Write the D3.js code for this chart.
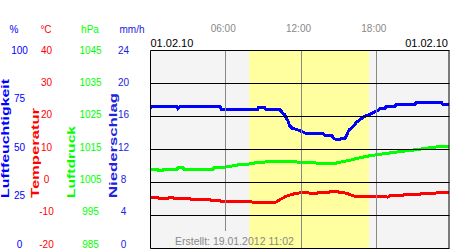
<!DOCTYPE html>
<html><head><meta charset="utf-8">
<script src="https://cdn.jsdelivr.net/npm/d3@7/dist/d3.min.js"></script>
<style>body{margin:0;background:#fff}svg{display:block}text{font-family:"Liberation Sans",Arial,sans-serif}</style>
</head><body><svg id="c" width="450" height="250"></svg>
<script>
// ---- data ----
const dateLabel = "01.02.10";
const createdLabel = "Erstellt: 19.01.2012 11:02";
const timeTicks = [6, 12, 18];
const timeTickLabels = ["06:00", "12:00", "18:00"];
const daylight = [7.88, 17.42]; // hours

const humTicks = [100, 75, 50, 25, 0];
const tempTicks = [40, 30, 20, 10, 0, -10, -20];
const presTicks = [1045, 1035, 1025, 1015, 1005, 995, 985];
const precTicks = [24, 20, 16, 12, 8, 4, 0];

const humTime = [0,0.13,2.12,2.2,2.36,5.55,5.63,8.57,8.6,9.13,9.21,10.33,10.49,10.69,10.84,11.0,11.08,11.28,11.68,12.16,12.48,13.75,13.91,14.47,14.55,14.79,15.11,15.27,15.51,15.82,16.14,16.46,16.78,17.1,17.5,17.9,18.29,18.69,18.77,19.49,19.57,21.08,21.16,23.24,23.31,23.79];
const humVal  = [70.7,71.8,71.8,70.7,71.8,71.8,70.4,70.4,71.0,71.0,70.0,70.0,68.8,67.6,65.7,64.0,62.2,60.8,60.1,58.8,57.9,57.9,57.0,57.0,55.8,55.0,55.0,55.8,55.6,59.8,61.5,64.0,65.4,66.8,67.8,69.0,70.5,70.5,71.8,71.8,72.6,72.6,73.5,73.5,72.6,72.6];

const presTime = [0,0.6,0.65,1.0,1.05,2.12,2.2,2.6,2.68,4.99,5.07,5.71,6.02,6.66,7.22,7.86,8.57,9.53,10.97,11.77,12.56,12.88,13.51,14.71,15.27,15.74,16.46,17.34,18.38,19.57,21.08,22.83,23.79];
const presVal  = [1008.8,1008.8,1008.6,1008.6,1009.0,1009.0,1009.4,1009.4,1009.0,1009.0,1009.4,1009.4,1009.7,1010.1,1010.5,1010.6,1011.1,1011.3,1011.3,1011.2,1011.2,1011.0,1010.8,1010.8,1011.3,1011.6,1012.3,1013.0,1013.6,1014.2,1014.9,1015.8,1016.0];

const tempTime = [0,0.61,0.69,1.4,1.47,1.79,1.87,3.14,3.22,4.75,4.83,5.55,5.63,7.54,8.1,8.41,8.89,9.69,10.01,10.41,10.81,11.28,11.76,12.48,12.88,13.27,13.35,14.15,14.31,14.94,15.18,15.58,15.98,16.38,17.89,18.93,19.09,20.05,20.21,21.48,21.64,22.68,22.84,23.79];
const tempVal  = [-4.5,-4.5,-4.8,-4.8,-4.5,-4.5,-4.8,-4.8,-5.1,-5.1,-5.4,-5.4,-5.7,-5.7,-5.9,-6.1,-6.2,-6.2,-5.9,-5.0,-4.2,-3.6,-3.2,-3.1,-3.3,-3.3,-3.1,-3.1,-2.8,-2.8,-3.1,-3.2,-3.8,-4.3,-4.3,-4.4,-4.0,-4.0,-3.6,-3.6,-3.3,-3.3,-3.1,-3.0];

// ---- layout ----
const svg = d3.select("#c");
const L = 150.5, R = 449.5, T = 50.5, B = 248.5;
const x = d3.scaleLinear().domain([0, 24]).range([150.4, 451.6]);
const yHum = d3.scaleLinear().domain([0, 100]).range([B, T]);
const yTemp = d3.scaleLinear().domain([-20, 40]).range([B, T]);
const yPres = d3.scaleLinear().domain([985, 1045]).range([B, T]);
const yGrid = d3.scaleLinear().domain([0, 6]).range([B, T]);
// label scales (labels are spread slightly tighter than the grid)
const lHum = d3.scaleLinear().domain([0, 100]).range([244, 50]);
const lTemp = d3.scaleLinear().domain([-20, 40]).range([244, 50]);
const lPres = d3.scaleLinear().domain([985, 1045]).range([244, 50]);
const lPrec = d3.scaleLinear().domain([0, 24]).range([244, 50]);

const BLUE = "#0000ff", RED = "#ff0000", GREEN = "#00ff00", PREC = "#2222dd";

// background
svg.append("rect").attr("x", L).attr("y", T).attr("width", R - L).attr("height", B - T).attr("fill", "#f4f4f4");
svg.append("rect").attr("x", x(daylight[0])).attr("y", T).attr("width", x(daylight[1]) - x(daylight[0])).attr("height", B - T).attr("fill", "#ffffa0");

// data lines
const clip = svg.append("clipPath").attr("id", "pc").append("rect").attr("x", L).attr("y", T).attr("width", R - L).attr("height", B - T);
const g = svg.append("g").attr("clip-path", "url(#pc)");
function drawLine(times, vals, ys, color) {
  const pts = times.map((t, i) => [t, vals[i]]);
  g.append("path").datum(pts)
    .attr("d", d3.line().x(d => x(d[0])).y(d => ys(d[1])))
    .attr("fill", "none").attr("stroke", color).attr("stroke-width", 3)
    .attr("stroke-linejoin", "miter").attr("shape-rendering", "crispEdges");
}
drawLine(presTime, presVal, yPres, GREEN);
drawLine(tempTime, tempVal, yTemp, RED);
drawLine(humTime, humVal, yHum, BLUE);

// grid on top
timeTicks.forEach(t => {
  const xx = Math.floor(x(t)) + 0.5;
  svg.append("line").attr("x1", xx).attr("x2", xx).attr("y1", T).attr("y2", B).attr("stroke", "#888").attr("stroke-width", 1);
});
d3.range(0, 7).forEach(k => {
  svg.append("line").attr("x1", L).attr("x2", R).attr("y1", yGrid(k)).attr("y2", yGrid(k)).attr("stroke", "#000").attr("stroke-width", 1);
});
svg.append("line").attr("x1", L).attr("x2", L).attr("y1", T).attr("y2", B).attr("stroke", "#000");
svg.append("line").attr("x1", R - 0.5).attr("x2", R - 0.5).attr("y1", T).attr("y2", B).attr("stroke", "#000");

// created label with cover box
svg.append("rect").attr("x", 170).attr("y", 231).attr("width", x(daylight[0]) - 170).attr("height", B - 231 - 0.5).attr("fill", "#f4f4f4");
svg.append("text").attr("x", 175).attr("y", 245).attr("font-size", 10.5).attr("fill", "#888").text(createdLabel);

// top labels
svg.selectAll(".tt").data(timeTicks).enter().append("text")
  .attr("x", (d) => x(d) - 2.5).attr("y", 32).attr("text-anchor", "middle")
  .attr("font-size", 10).attr("fill", "#888").text((d, i) => timeTickLabels[i]);
svg.append("text").attr("x", 150.5).attr("y", 46.5).attr("font-size", 11).attr("fill", "#000").text(dateLabel);
svg.append("text").attr("x", 448).attr("y", 46.5).attr("font-size", 11).attr("text-anchor", "end").attr("fill", "#000").text(dateLabel);

// unit headers
const units = [["%", 14, BLUE], ["°C", 46, RED], ["hPa", 90, GREEN], ["mm/h", 132, PREC]];
units.forEach(u => svg.append("text").attr("x", u[1]).attr("y", 33).attr("text-anchor", "middle").attr("font-size", 10).attr("fill", u[2]).text(u[0]));

// tick label columns
function col(ticks, sc, cx, color) {
  svg.append("g").selectAll("text").data(ticks).enter().append("text")
    .attr("x", cx).attr("y", d => sc(d)).attr("dy", "0.35em").attr("text-anchor", "middle")
    .attr("font-size", 10).attr("fill", color).text(d => d);
}
col(humTicks, lHum, 19.5, BLUE);
col(tempTicks, lTemp, 46.5, RED);
col(presTicks, lPres, 90.5, GREEN);
col(precTicks, lPrec, 123.5, PREC);

// rotated axis titles
const titles = [["Luftfeuchtigkeit", 8.5, 119, BLUE], ["Temperatur", 38.5, 90, RED], ["Luftdruck", 74.5, 72, GREEN], ["Niederschlag", 117, 105, PREC]];
titles.forEach(t => svg.append("text")
  .attr("transform", `translate(${t[1]},198) rotate(-90)`)
  .attr("font-size", 10).attr("font-weight", "bold").attr("fill", t[3])
  .attr("textLength", t[2]).attr("lengthAdjust", "spacingAndGlyphs").text(t[0]));
</script></body></html>
